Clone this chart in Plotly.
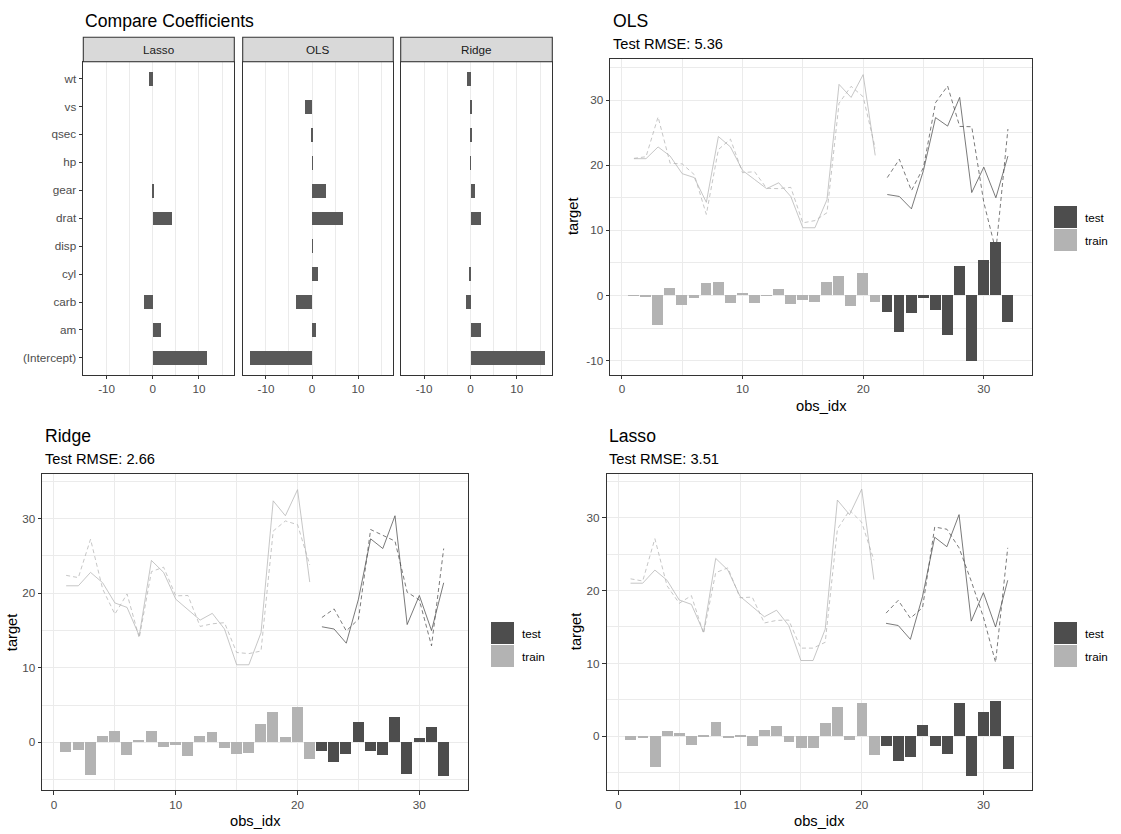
import plotly.graph_objects as go

# ---------------- data ----------------
obs_idx = list(range(1, 33))
target = [21.0, 21.0, 22.8, 21.4, 18.7, 18.1, 14.3, 24.4, 22.8, 19.2, 17.8, 16.4,
          17.3, 15.2, 10.4, 10.4, 14.7, 32.4, 30.4, 33.9, 21.5, 15.5, 15.2, 13.3,
          19.2, 27.3, 26.0, 30.4, 15.8, 19.7, 15.0, 21.4]
n_train = 21  # obs 1..21 are train, 22..32 test

# residuals (target - prediction)
ols_resid = [-0.05, -0.3, -4.6, 1.1, -1.5, -0.45, 1.85, 2.0, -1.2, 0.35, -1.2, -0.05,
             0.9, -1.4, -0.75, -1.1, 2.0, 2.9, -1.7, 3.4, -1.1, -2.6, -5.7, -2.8,
             -0.45, -2.3, -6.15, 4.45, -10.1, 5.4, 8.15, -4.15]
ridge_resid = [-1.4, -1.1, -4.45, 0.85, 1.5, -1.8, 0.3, 1.5, -0.7, -0.45, -1.9, 0.85,
               1.4, -0.85, -1.65, -1.5, 2.45, 4.05, 0.7, 4.7, -2.3, -1.25, -2.7, -1.65,
               2.7, -1.25, -1.8, 3.4, -4.35, 0.6, 2.05, -4.6]
lasso_resid = [-0.6, -0.3, -4.3, 0.75, 0.45, -1.2, 0.2, 1.95, -0.3, 0.2, -1.3, 0.85,
               1.4, -0.75, -1.7, -1.7, 1.8, 4.0, -0.6, 4.55, -2.65, -1.4, -3.45, -2.9,
               1.55, -1.4, -2.4, 4.55, -5.5, 3.35, 4.85, -4.45]

terms = ["(Intercept)", "am", "carb", "cyl", "disp", "drat", "gear", "hp", "qsec", "vs", "wt"]
lasso_coef = [11.87, 1.75, -1.75, 0.0, 0.0, 4.3, 0.4, 0.0, 0.0, 0.0, -0.85]
ols_coef = [-13.6, 0.85, -3.45, 1.3, 0.01, 6.7, 3.0, -0.02, -0.2, -1.5, 0.0]
ridge_coef = [16.05, 2.3, -1.05, -0.2, 0.0, 2.3, 0.85, -0.02, 0.15, 0.15, -0.85]

coef_ticks = [-10, 0, 10]
idx_ticks = [0, 10, 20, 30]
target_ticks = [-10, 0, 10, 20, 30]

rmse = {"OLS": "5.36", "Ridge": "2.66", "Lasso": "3.51"}

# ---------------- style ----------------
W, H = 1121, 834
FONT = "Liberation Sans, Arial, sans-serif"
TEST_C = "#4D4D4D"
TRAIN_C = "#B3B3B3"
COEF_C = "#595959"
GRID = "#EBEBEB"
BORDER = "#333333"
TICKTXT = "#4D4D4D"


def xd(a, b):
    return [a / W, b / W]


def yd(top, bottom):
    return [1 - bottom / H, 1 - top / H]


def px(x):
    return x / W


def py(y):
    return 1 - y / H


def tick_text(vals):
    return [str(v) for v in vals]  # ASCII hyphen-minus like the reference


fig = go.Figure()

common_axis = dict(
    showline=True, mirror=True, linecolor=BORDER, linewidth=1.07,
    ticks="outside", ticklen=3.7, tickwidth=1.07, tickcolor=BORDER,
    tickfont=dict(family=FONT, size=11.7, color=TICKTXT),
    showgrid=True, gridcolor=GRID, gridwidth=1.07, zeroline=False,
)
minor_grid = dict(dtick=5, tick0=0, showgrid=True, gridcolor=GRID, gridwidth=0.55, ticks="")

# ---------------- coefficient facets ----------------
coef_sets = [("Lasso", lasso_coef), ("OLS", ols_coef), ("Ridge", ridge_coef)]
coef_x = [(83.3, 234.3), (242.7, 393.3), (400.7, 552.3)]
coef_top, coef_bot, strip_top = 61.7, 374.7, 37.3
shapes = []
annotations = []
for i, ((name, vals), (xa, xb)) in enumerate(zip(coef_sets, coef_x)):
    k = i + 1
    sx = "" if k == 1 else str(k)
    fig.add_trace(go.Bar(
        x=vals, y=terms, orientation="h", width=0.5,
        marker=dict(color=COEF_C, line=dict(width=0)),
        xaxis="x" + sx, yaxis="y" + sx, showlegend=False, hoverinfo="x+y",
    ))
    fig.layout["xaxis" + sx] = dict(
        common_axis, domain=xd(xa, xb), anchor="y" + sx, range=[-15.05, 17.65],
        tickmode="array", tickvals=coef_ticks, ticktext=tick_text(coef_ticks),
        minor=minor_grid,
    )
    fig.layout["yaxis" + sx] = dict(
        common_axis, domain=yd(coef_top, coef_bot), anchor="x" + sx,
        type="category", categoryorder="array", categoryarray=terms,
        range=[-0.6, 10.6], showgrid=False,
        showticklabels=(k == 1), ticks=("outside" if k == 1 else ""),
    )
    shapes.append(dict(type="rect", xref="paper", yref="paper",
                       x0=px(xa), x1=px(xb), y0=py(coef_top), y1=py(strip_top),
                       fillcolor="#D9D9D9", line=dict(color=BORDER, width=1.07), layer="above"))
    annotations.append(dict(text=name, xref="paper", yref="paper", x=px((xa + xb) / 2),
                            y=py((strip_top + coef_top) / 2), showarrow=False,
                            xanchor="center", yanchor="middle",
                            font=dict(family=FONT, size=11.7, color="#1A1A1A")))

annotations.append(dict(text="Compare Coefficients", xref="paper", yref="paper",
                        x=px(83), y=py(21), xanchor="left", yanchor="middle", showarrow=False,
                        font=dict(family=FONT, size=17.6, color="black")))

# ---------------- prediction panels ----------------
panels = [
    # name, resid, x-domain, y-domain(top,bottom), yrange, axis idx, overlay idx,
    # legend box x, target-title x, legend box top y
    ("OLS", ols_resid, (610.3, 1032.3), (59.3, 374.7), [-12.15, 36.25], 4, 7, 1054, 573, 206),
    ("Ridge", ridge_resid, (42.3, 468.3), (474.3, 790.0), [-6.4, 35.96], 5, 8, 491, 12, 622),
    ("Lasso", lasso_resid, (606.7, 1032.3), (474.3, 790.0), [-7.35, 35.93], 6, 9, 1054, 576, 622),
]

for name, resid, (xa, xb), (yt, yb), yr, k, ko, lx, tx, ly in panels:
    sx, sy, so = str(k), str(k), str(ko)
    pred = [t - r for t, r in zip(target, resid)]
    groups = [(slice(0, n_train), TRAIN_C), (slice(n_train, 32), TEST_C)]
    for sl, col in groups:
        fig.add_trace(go.Scatter(x=obs_idx[sl], y=target[sl], mode="lines",
                                 line=dict(color=col, width=0.75),
                                 xaxis="x" + sx, yaxis="y" + sy, showlegend=False))
        fig.add_trace(go.Scatter(x=obs_idx[sl], y=pred[sl], mode="lines",
                                 line=dict(color=col, width=0.75, dash="4px,3px"),
                                 xaxis="x" + sx, yaxis="y" + sy, showlegend=False))
    for sl, col in groups:
        fig.add_trace(go.Bar(x=obs_idx[sl], y=resid[sl], width=0.9,
                             marker=dict(color=col, line=dict(width=0)),
                             xaxis="x" + sx, yaxis="y" + so, showlegend=False))

    fig.layout["xaxis" + sx] = dict(
        common_axis, domain=xd(xa, xb), anchor="y" + sy, range=[-0.96, 34.02],
        tickmode="array", tickvals=idx_ticks, ticktext=tick_text(idx_ticks),
        minor=minor_grid,
    )
    fig.layout["yaxis" + sy] = dict(
        common_axis, domain=yd(yt, yb), anchor="x" + sx, range=yr,
        tickmode="array", tickvals=target_ticks, ticktext=tick_text(target_ticks),
        minor=minor_grid,
    )
    fig.layout["yaxis" + so] = dict(overlaying="y" + sy, anchor="x" + sx, range=yr,
                                    visible=False, showgrid=False, zeroline=False)

    # titles
    annotations.append(dict(text=name, xref="paper", yref="paper", x=px(xa + 0.5), y=py(yt - 38.5),
                            xanchor="left", yanchor="middle", showarrow=False,
                            font=dict(family=FONT, size=17.6, color="black")))
    annotations.append(dict(text="Test RMSE: " + rmse[name], xref="paper", yref="paper",
                            x=px(xa + 0.5), y=py(yt - 15), xanchor="left", yanchor="middle",
                            showarrow=False, font=dict(family=FONT, size=14.67, color="black")))
    # axis titles
    annotations.append(dict(text="obs_idx", xref="paper", yref="paper", x=px((xa + xb) / 2),
                            y=py(yb + 31), xanchor="center", yanchor="middle", showarrow=False,
                            font=dict(family=FONT, size=14.67, color="black")))
    annotations.append(dict(text="target", xref="paper", yref="paper", x=px(tx),
                            y=py((yt + yb) / 2), xanchor="center", yanchor="middle",
                            textangle=-90, showarrow=False,
                            font=dict(family=FONT, size=14.67, color="black")))
    # legend keys
    for j, (lab, col) in enumerate([("test", TEST_C), ("train", TRAIN_C)]):
        y0 = ly + j * 23
        shapes.append(dict(type="rect", xref="paper", yref="paper",
                           x0=px(lx), x1=px(lx + 23), y0=py(y0 + 22), y1=py(y0),
                           fillcolor=col, line=dict(width=0)))
        annotations.append(dict(text=lab, xref="paper", yref="paper", x=px(lx + 29),
                                y=py(y0 + 11.5), xanchor="left", yanchor="middle",
                                showarrow=False,
                                font=dict(family=FONT, size=11.7, color="black")))

fig.update_layout(
    width=W, height=H, margin=dict(l=0, r=0, t=0, b=0),
    paper_bgcolor="white", plot_bgcolor="white",
    barmode="overlay", bargap=0, showlegend=False,
    shapes=shapes, annotations=annotations,
    font=dict(family=FONT),
)

fig.write_html("out.html",
               config={"displayModeBar": False},
               post_script="document.body.style.margin='0';document.body.style.overflow='hidden';")
